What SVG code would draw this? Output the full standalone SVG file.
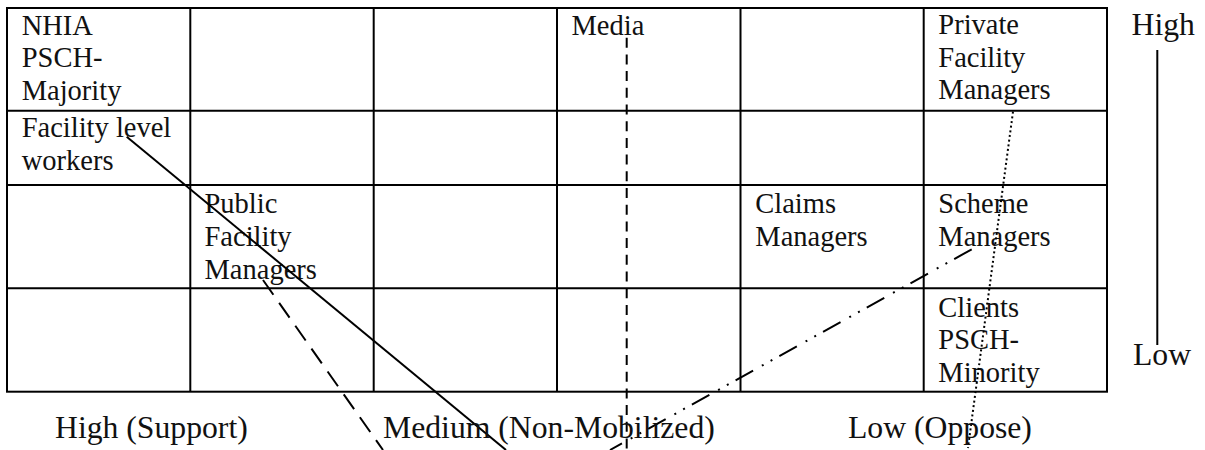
<svg xmlns="http://www.w3.org/2000/svg" width="1205" height="450" viewBox="0 0 1205 450">
  <style>
    .grid { stroke: #000; stroke-width: 2; fill: none; }
    .t { font-family: "Liberation Serif", "Times New Roman", serif; font-size: 28.5px; fill: #111; }
    .ax { font-family: "Liberation Serif", "Times New Roman", serif; font-size: 31.7px; fill: #111; }
    .c { stroke: #000; stroke-width: 2; fill: none; }
  </style>
  <rect width="1205" height="450" fill="#fff"/>
  <g id="grid" class="grid">
    <rect x="7" y="8" width="1100" height="383.7"/>
    <line x1="190.3" y1="8" x2="190.3" y2="391.7"/>
    <line x1="373.7" y1="8" x2="373.7" y2="391.7"/>
    <line x1="557" y1="8" x2="557" y2="391.7"/>
    <line x1="740.5" y1="8" x2="740.5" y2="391.7"/>
    <line x1="923.7" y1="8" x2="923.7" y2="391.7"/>
    <line x1="7" y1="110.7" x2="1107" y2="110.7"/>
    <line x1="7" y1="185" x2="1107" y2="185"/>
    <line x1="7" y1="288.3" x2="1107" y2="288.3"/>
  </g>
  <g id="node-nhia" class="t">
    <text x="21.7" y="34.5">NHIA</text>
    <text x="21.7" y="67">PSCH-</text>
    <text x="21.7" y="99.7">Majority</text>
  </g>
  <g id="node-facility-workers" class="t">
    <text x="21.7" y="137.3">Facility level</text>
    <text x="21.7" y="170">workers</text>
  </g>
  <g id="node-public-managers" class="t">
    <text x="204.5" y="213.3">Public</text>
    <text x="204.5" y="246">Facility</text>
    <text x="204.5" y="278.7">Managers</text>
  </g>
  <g id="node-media" class="t">
    <text x="571.5" y="34.5">Media</text>
  </g>
  <g id="node-private-managers" class="t">
    <text x="938.3" y="34">Private</text>
    <text x="938.3" y="66.5">Facility</text>
    <text x="938.3" y="99">Managers</text>
  </g>
  <g id="node-claims-managers" class="t">
    <text x="755.3" y="213.3">Claims</text>
    <text x="755.3" y="246">Managers</text>
  </g>
  <g id="node-scheme-managers" class="t">
    <text x="938.3" y="213.3">Scheme</text>
    <text x="938.3" y="246">Managers</text>
  </g>
  <g id="node-clients" class="t">
    <text x="938.3" y="316.7">Clients</text>
    <text x="938.3" y="349.4">PSCH-</text>
    <text x="938.3" y="382">Minority</text>
  </g>
  <g id="connectors" class="c">
    <line x1="626.7" y1="37.7" x2="626.7" y2="450" stroke-dasharray="10 6.7"/>
    <line x1="126.7" y1="136.7" x2="506" y2="450"/>
    <line x1="263" y1="280" x2="383" y2="450" stroke-dasharray="18 10"/>
    <line x1="971.7" y1="249.3" x2="610" y2="450" stroke-dasharray="20 8 2 8 2 10"/>
    <line x1="1013" y1="111.7" x2="968" y2="448" stroke-dasharray="2 2.7"/>
  </g>
  <g id="axes">
    <text class="ax" x="55" y="438">High (Support)</text>
    <text class="ax" x="383" y="438">Medium (Non-Mobilized)</text>
    <text class="ax" x="848" y="438">Low (Oppose)</text>
    <text class="ax" x="1131.5" y="35">High</text>
    <text class="ax" x="1133" y="365">Low</text>
    <line class="c" x1="1157.3" y1="50" x2="1157.3" y2="345"/>
  </g>
</svg>
